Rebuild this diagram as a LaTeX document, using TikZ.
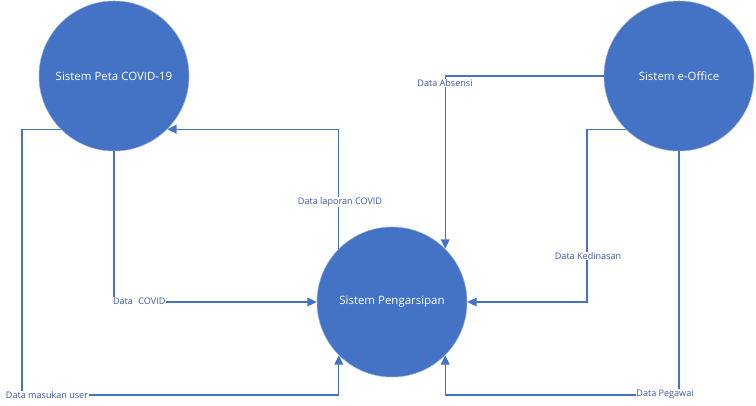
\documentclass[tikz,border=0pt]{standalone}
\usepackage{fontspec}
\setmainfont{Open Sans}
\usetikzlibrary{arrows.meta, positioning, calc}

\definecolor{procblue}{RGB}{68,114,196}
\definecolor{flowtext}{RGB}{59,86,176}

\begin{document}
\begin{tikzpicture}[
    x=0.75pt, y=-0.75pt,
    process/.style={circle, fill=procblue, draw=procblue!60!white, minimum size=112.5pt, inner sep=0pt, text=white, font=\fontsize{8.6}{10}\selectfont},
    flow/.style={draw=procblue, line width=0.9pt, -{Triangle[length=7pt, width=6.5pt]}},
    flowlabel/.style={fill=white, inner sep=0.6pt, text=flowtext, font=\fontsize{6.8}{8}\selectfont}
]
    \useasboundingbox (0,0) rectangle (756,406);

    % Processes
    \node[process] (peta) at (114,76) {Sistem Peta COVID-19};
    \node[process] (arsip) at (392,302) {Sistem Pengarsipan};
    \node[process] (office) at (679,76) {Sistem e-Office};

    % Bend points
    \coordinate (userbend) at (22,395);
    \coordinate (kedinbend) at (587,302);
    \coordinate (pegawaibend) at (679,395);

    % Peta COVID-19 <-> Pengarsipan
    \draw[flow] (peta.south) |- (arsip.west);
    \draw[flow] (arsip.north west) |- (peta.south east);
    \draw[flow] (peta.south west) -| (userbend) -| (arsip.south west);

    % e-Office -> Pengarsipan
    \draw[flow] (office.west) -| (arsip.north east);
    \draw[flow] (office.south west) -| (kedinbend) -- (arsip.east);
    \draw[flow] (office.south) -- (pegawaibend) -| (arsip.south east);

    % Flow labels
    \node[flowlabel, anchor=west] (lcovid) at (112,301) {Data\,\, COVID};
    \node[flowlabel] (llaporan) at (340,202) {Data laporan COVID};
    \node[flowlabel] (luser) at (47,395) {Data masukan user};
    \node[flowlabel] (labsensi) at (445,83) {Data Absensi};
    \node[flowlabel] (lkedin) at (588,256) {Data Kedinasan};
    \node[flowlabel] (lpegawai) at (665,394) {Data Pegawai};
\end{tikzpicture}
\end{document}
